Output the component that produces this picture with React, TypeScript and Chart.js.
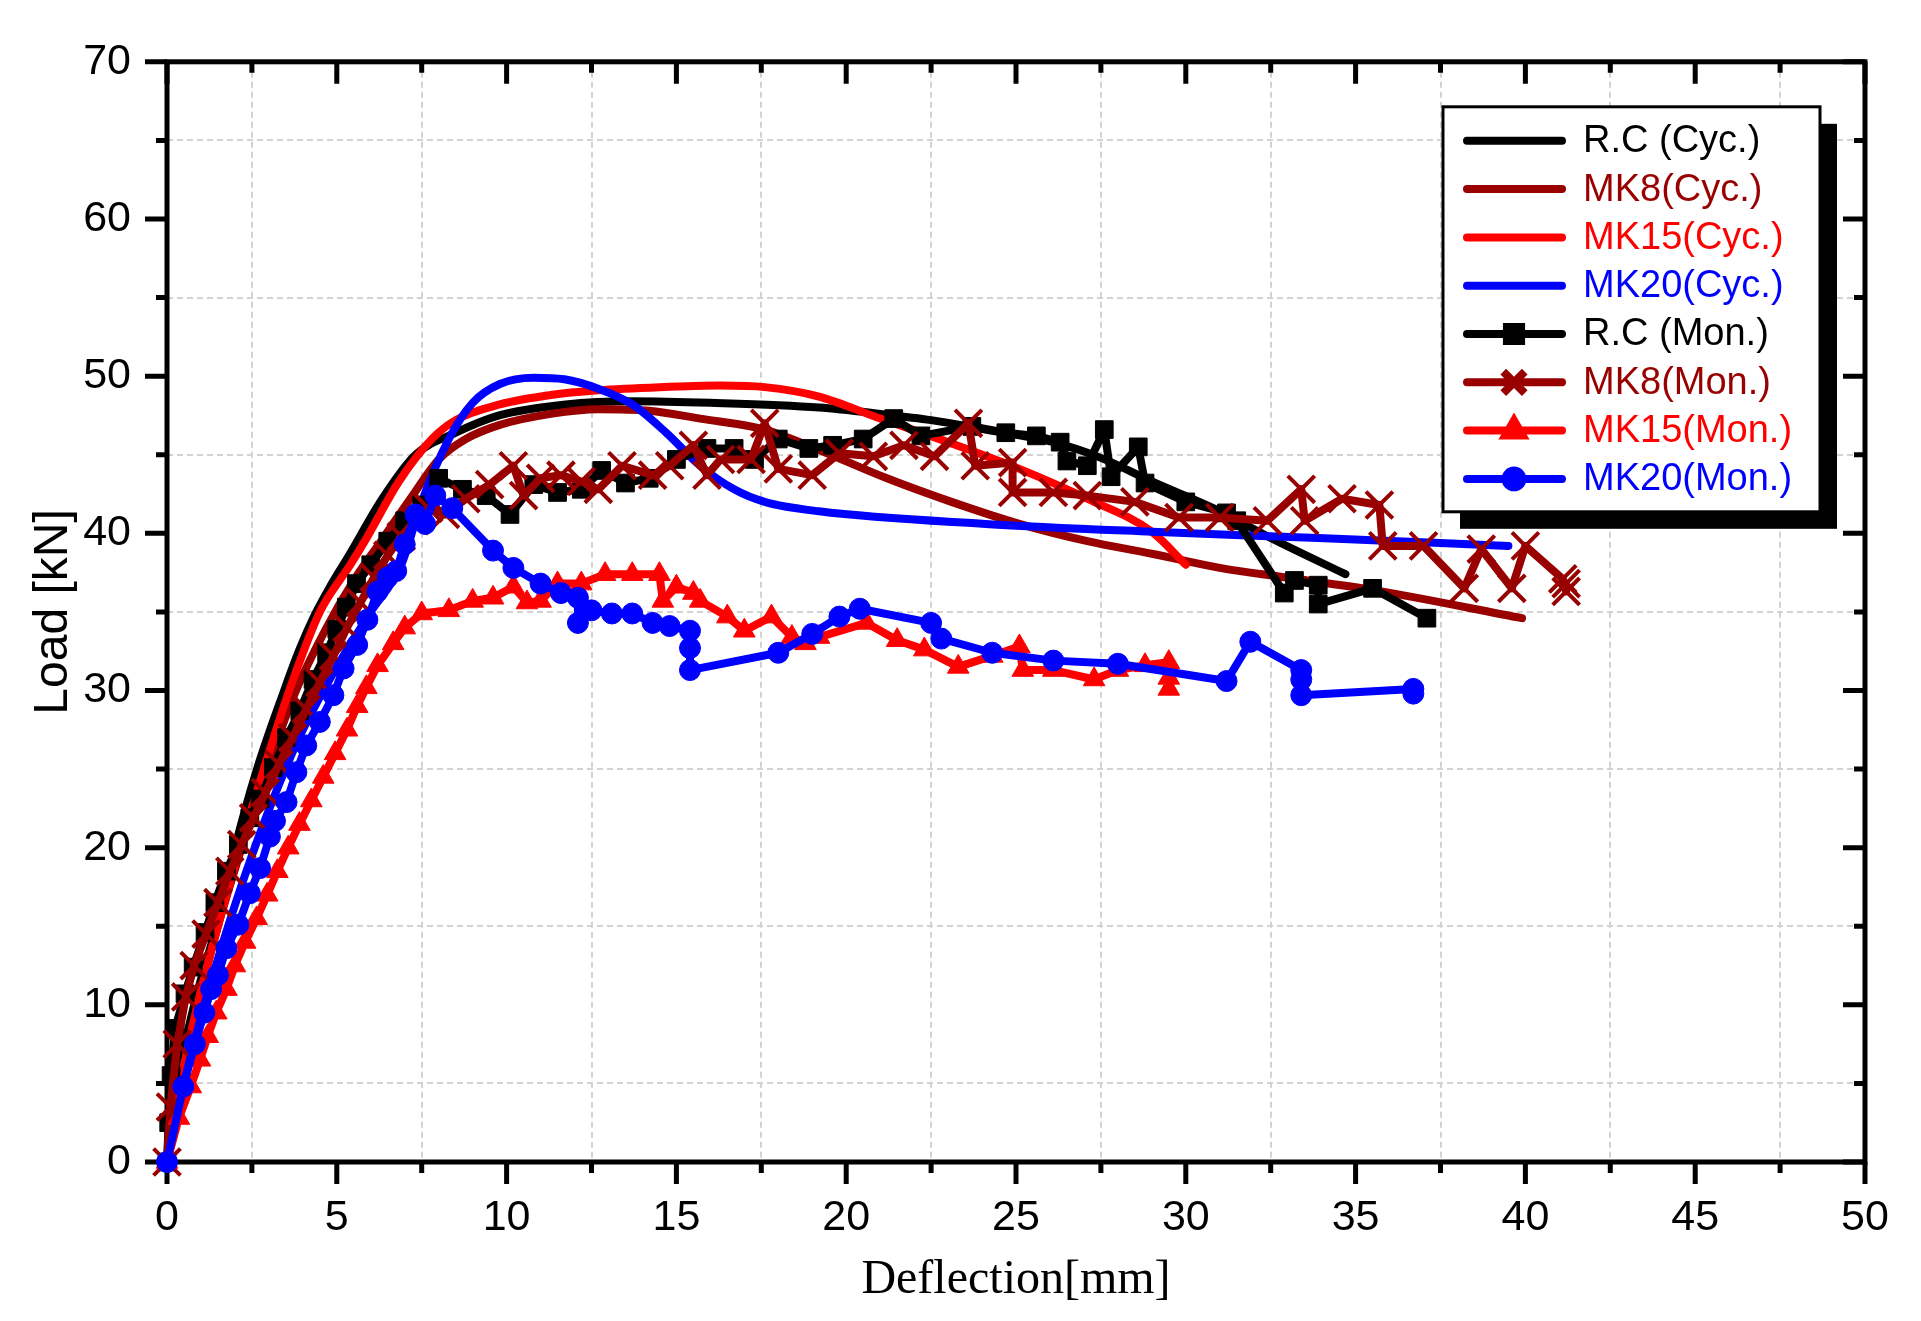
import { useEffect, useRef } from "react";
import { Chart, registerables } from "chart.js";
import { drawPoint } from "chart.js/helpers";

Chart.register(...registerables);

// ---- data (deflection in mm, load in kN) ----
const rcCycX = [0, 0.3, 0.8, 1.45, 2.0, 2.65, 3.45, 3.9, 4.35, 4.8, 5.36, 6.34, 7.32, 8.5, 9.78, 11.74, 13.7, 16, 19.2, 21, 22.5, 24.1, 26.1, 27.5, 29, 30.5, 31, 32.5, 34.7];
const rcCycY = [0, 5, 10, 15, 20, 25, 30, 32.6, 34.8, 36.6, 38.6, 42.2, 45.0, 46.4, 47.5, 48.2, 48.4, 48.3, 48.0, 47.6, 47.2, 46.6, 45.8, 44.8, 43.3, 41.9, 41.4, 39.7, 37.4];

const mk8CycX = [0, 0.4, 0.9, 1.5, 2.2, 2.95, 3.8, 4.7, 5.5, 6.3, 7.2, 8.0, 8.8, 9.8, 11.3, 12.7, 14.2, 15.7, 17.6, 19.2, 21.2, 23.1, 25.1, 27.1, 29, 31, 32.9, 35.5, 39.9];
const mk8CycY = [0, 5, 10, 15, 20, 25, 30, 34, 37, 39.5, 42.3, 44.7, 46.0, 46.9, 47.6, 47.9, 47.8, 47.3, 46.6, 45.3, 43.5, 42.0, 40.6, 39.5, 38.7, 37.8, 37.2, 36.4, 34.6];

const mk15CycX = [0, 0.4, 0.9, 1.5, 2.15, 2.85, 3.6, 4.5, 5.4, 5.85, 6.83, 7.8, 8.5, 9.8, 11.3, 12.7, 14.5, 16.3, 17.6, 19.2, 21, 23, 25.1, 27.1, 29, 30];
const mk15CycY = [0, 5, 10, 15, 20, 25, 30, 35, 38, 39.6, 43.3, 46.0, 47.2, 48.2, 48.8, 49.1, 49.3, 49.4, 49.3, 48.7, 47.3, 45.8, 44.1, 42.2, 40.1, 38.0];

const mk20CycX = [0, 0.5, 1.1, 1.8, 2.5, 3.2, 4.0, 5.0, 6.0, 6.9, 7.5, 8.3, 9.0, 9.8, 10.8, 11.7, 12.7, 13.7, 14.7, 15.7, 16.7, 17.6, 19.2, 24.1, 29, 33.9, 39.5];
const mk20CycY = [0, 5, 10, 15, 19.5, 23.5, 27.5, 31.5, 35, 38, 42, 46, 48.3, 49.5, 49.9, 49.8, 49.2, 48.2, 46.4, 44.3, 42.8, 42, 41.4, 40.6, 40.1, 39.7, 39.2];

const rcMonX = [0, 0.05, 0.12, 0.24, 0.53, 0.77, 1.12, 1.41, 1.75, 2.1, 2.44, 2.74, 3.13, 3.52, 3.91, 4.3, 4.7, 5.0, 5.28, 5.58, 6.0, 6.5, 7.0, 7.5, 8.0, 8.7, 9.4, 10.1, 10.8, 11.5, 12.2, 12.8, 13.5, 14.2, 15.0, 15.9, 16.7, 17.3, 18.0, 18.9, 19.6, 20.5, 21.4, 22.2, 23.7, 24.7, 25.6, 26.3, 26.5, 27.1, 27.6, 27.8, 28.6, 28.8, 30, 31.2, 31.5, 32.9, 33.2, 33.9, 33.9, 35.5, 37.1];
const rcMonY = [0, 2.5, 5.5, 8.5, 10.7, 12.4, 14.6, 16.5, 18.5, 20.2, 21.9, 23.1, 25.1, 27.0, 28.7, 30.7, 32.4, 33.9, 35.3, 36.8, 38, 39.5, 40.8, 41.8, 43.5, 42.8, 42.4, 41.2, 43.1, 42.6, 42.8, 44.0, 43.2, 43.5, 44.7, 45.4, 45.4, 44.7, 46.0, 45.4, 45.6, 46.0, 47.3, 46.2, 46.8, 46.4, 46.2, 45.8, 44.6, 44.3, 46.6, 43.6, 45.5, 43.2, 42, 41.3, 40.8, 36.2, 37, 36.7, 35.5, 36.5, 34.6];

const mk8MonX = [0, 0.1, 0.3, 0.55, 0.8, 1.15, 1.5, 1.85, 2.2, 2.55, 2.9, 3.3, 3.7, 4.1, 4.5, 4.9, 5.3, 5.7, 6.1, 6.5, 6.9, 7.3, 7.7, 8.2, 8.8, 9.5, 10.2, 10.5, 11, 11.6, 12.2, 12.7, 13.4, 14.3, 14.8, 15.5, 15.9, 16.3, 17.2, 17.6, 18.0, 19.0, 19.8, 20.8, 21.7, 22.6, 23.6, 23.8, 24.9, 24.9, 26.1, 27.1, 28.5, 29.8, 31.0, 32.4, 33.4, 33.5, 34.6, 35.7, 35.8, 37.0, 38.2, 38.7, 39.6, 40.0, 41.1, 41.2, 41.2];
const mk8MonY = [0, 3.5, 7.5, 10.5, 12.5, 14.5, 16.5, 18.5, 20.2, 21.9, 23.5, 25.3, 27, 28.8, 30.5, 32.2, 34, 35.6, 37.2, 38.6, 39.8, 40.8, 41.6, 41.2, 42.2, 43.1, 44.3, 42.4, 43.5, 43.7, 43.3, 42.8, 44.3, 43.7, 44.3, 45.6, 43.7, 44.7, 44.7, 47.0, 44.1, 43.7, 45.1, 44.9, 45.6, 44.9, 47.0, 44.3, 44.5, 42.6, 42.6, 42.4, 42.0, 41.0, 41.0, 40.8, 42.8, 40.8, 42.2, 41.8, 39.2, 39.2, 36.5, 39.0, 36.5, 39.2, 37.1, 36.3, 36.8];

const mk15MonX = [0, 0.35, 0.7, 0.97, 1.2, 1.45, 1.75, 2.0, 2.3, 2.64, 2.95, 3.25, 3.57, 3.9, 4.25, 4.6, 4.95, 5.3, 5.6, 5.87, 6.2, 6.66, 7.0, 7.5, 8.3, 9.0, 9.6, 10.2, 10.6, 11.0, 11.5, 12.2, 12.9, 13.7, 14.5, 14.6, 15.0, 15.5, 15.7, 16.5, 17.0, 17.8, 18.4, 18.8, 19.2, 20.6, 21.5, 22.3, 23.3, 24.3, 25.1, 25.2, 26.1, 27.3, 28.0, 28.8, 29.5, 29.5, 29.5];
const mk15MonY = [0, 2.8, 4.8, 6.5, 8, 9.5, 11, 12.5, 14, 15.5, 17, 18.5, 20, 21.5, 23, 24.5, 26, 27.5, 29, 30.2, 31.6, 33, 34, 34.9, 35.1, 35.7, 35.9, 36.6, 35.6, 35.7, 36.8, 36.8, 37.4, 37.4, 37.4, 35.7, 36.6, 36.2, 35.7, 34.7, 33.8, 34.7, 33.4, 33.0, 33.4, 34.3, 33.2, 32.6, 31.5, 32.2, 32.8, 31.3, 31.3, 30.7, 31.3, 31.6, 31.8, 30.1, 30.8];

const mk20MonX = [0, 0.48, 0.82, 1.1, 1.3, 1.5, 1.75, 2.1, 2.44, 2.74, 3.03, 3.18, 3.52, 3.81, 4.1, 4.5, 4.9, 5.2, 5.6, 5.9, 6.2, 6.5, 6.75, 7.0, 7.32, 7.6, 7.9, 8.4, 9.6, 10.2, 11.0, 11.6, 12.1, 12.1, 12.5, 13.1, 13.7, 14.3, 14.8, 15.4, 15.4, 15.4, 18.0, 19.0, 19.8, 20.4, 22.5, 22.8, 24.3, 26.1, 28.0, 31.2, 31.9, 33.4, 33.4, 33.4, 36.7, 36.7];
const mk20MonY = [0, 4.8, 7.5, 9.5, 11, 11.9, 13.6, 15.1, 17.1, 18.7, 20.7, 21.7, 22.9, 24.8, 26.5, 28.0, 29.7, 31.4, 32.9, 34.5, 36.3, 37.2, 37.6, 39.3, 41.2, 40.6, 42.4, 41.6, 38.9, 37.8, 36.8, 36.2, 35.9, 34.3, 35.1, 34.9, 34.9, 34.3, 34.1, 33.8, 32.7, 31.3, 32.4, 33.6, 34.7, 35.2, 34.3, 33.3, 32.4, 31.9, 31.7, 30.6, 33.1, 31.3, 30.7, 29.7, 30.1, 29.8];

const xTicksMax = 50;
const yTicksMax = 70;

const BLACK = "#000000";
const WINE = "#990000";
const RED = "#ff0000";
const BLUE = "#0000ff";

const sans = "'Liberation Sans', Arial, sans-serif";
const serif = "'Liberation Serif', 'Times New Roman', serif";

const pts = (xs: number[], ys: number[]) => xs.map((x, i) => ({ x, y: ys[i] }));

// box frame on all four sides, Origin-style major/minor ticks
const frameTicks = {
  id: "frameTicks",
  beforeDatasetsDraw(chart: any) {
    const { ctx, chartArea: a, scales } = chart;
    ctx.save();
    ctx.strokeStyle = "#000";
    ctx.lineWidth = 5;
    ctx.lineJoin = "miter";
    ctx.strokeRect(a.left, a.top, a.right - a.left, a.bottom - a.top);
    ctx.beginPath();
    scales.x.ticks.forEach((t: any) => {
      const px = scales.x.getPixelForValue(t.value);
      const len = t.value % 5 === 0 ? 22 : 11;
      ctx.moveTo(px, a.bottom);
      ctx.lineTo(px, a.bottom + len);
      ctx.moveTo(px, a.top);
      ctx.lineTo(px, a.top + len);
    });
    scales.y.ticks.forEach((t: any) => {
      const py = scales.y.getPixelForValue(t.value);
      const len = t.value % 10 === 0 ? 22 : 11;
      ctx.moveTo(a.left, py);
      ctx.lineTo(a.left - len, py);
      ctx.moveTo(a.right, py);
      ctx.lineTo(a.right - len, py);
    });
    ctx.stroke();
    ctx.restore();
  },
};

// framed legend with a solid drop shadow, built from the datasets
const shadowLegend = {
  id: "shadowLegend",
  afterDraw(chart: any) {
    const { ctx, chartArea: a } = chart;
    const sets = chart.data.datasets;
    const w = 377;
    const h = 405;
    const x0 = a.right - 45 - w;
    const y0 = a.top + 45;
    ctx.save();
    ctx.fillStyle = "#000";
    ctx.fillRect(x0 + 17, y0 + 17, w, h);
    ctx.fillStyle = "#fff";
    ctx.fillRect(x0, y0, w, h);
    ctx.lineWidth = 3;
    ctx.strokeStyle = "#000";
    ctx.strokeRect(x0, y0, w, h);
    ctx.font = `38px ${sans}`;
    ctx.textBaseline = "middle";
    ctx.textAlign = "left";
    sets.forEach((ds: any, i: number) => {
      const y = y0 + 34 + i * 48.3;
      ctx.strokeStyle = ds.borderColor;
      ctx.lineWidth = 8;
      ctx.lineCap = "round";
      ctx.beginPath();
      ctx.moveTo(x0 + 24, y);
      ctx.lineTo(x0 + 119, y);
      ctx.stroke();
      if (ds.pointRadius > 0) {
        ctx.fillStyle = ds.pointBackgroundColor;
        ctx.strokeStyle = ds.pointBorderColor;
        ctx.lineCap = "butt";
        drawPoint(ctx, { pointStyle: ds.pointStyle, rotation: 0, radius: ds.pointRadius * 0.8, borderWidth: ds.pointBorderWidth }, x0 + 71, y);
      }
      ctx.fillStyle = ds.borderColor;
      ctx.fillText(ds.label, x0 + 140, y + 1);
    });
    ctx.restore();
  },
};

const cyc = (label: string, color: string, xs: number[], ys: number[], order: number) => ({
  label,
  data: pts(xs, ys),
  borderColor: color,
  backgroundColor: color,
  borderWidth: 8,
  pointRadius: 0,
  tension: 0.4,
  cubicInterpolationMode: "monotone",
  borderCapStyle: "round",
  borderJoinStyle: "round",
  clip: false,
  order,
});

const mon = (label: string, color: string, xs: number[], ys: number[], style: string, radius: number, bw: number, order: number) => ({
  label,
  data: pts(xs, ys),
  borderColor: color,
  backgroundColor: color,
  borderWidth: 8,
  pointStyle: style,
  pointRadius: radius,
  pointBackgroundColor: color,
  pointBorderColor: color,
  pointBorderWidth: bw,
  tension: 0,
  borderCapStyle: "round",
  borderJoinStyle: "round",
  clip: false,
  order,
});

export default function App() {
  const chartRef = useRef<HTMLCanvasElement>(null);

  useEffect(() => {
    if (!chartRef.current) return;

    const chart = new Chart(chartRef.current, {
      type: "line",
      data: {
        datasets: [
          cyc("R.C (Cyc.)", BLACK, rcCycX, rcCycY, 8),
          cyc("MK8(Cyc.)", WINE, mk8CycX, mk8CycY, 7),
          cyc("MK15(Cyc.)", RED, mk15CycX, mk15CycY, 6),
          cyc("MK20(Cyc.)", BLUE, mk20CycX, mk20CycY, 5),
          mon("R.C (Mon.)", BLACK, rcMonX, rcMonY, "rect", 12.5, 1, 4),
          mon("MK8(Mon.)", WINE, mk8MonX, mk8MonY, "crossRot", 19, 4, 3),
          mon("MK15(Mon.)", RED, mk15MonX, mk15MonY, "triangle", 12.5, 1, 2),
          mon("MK20(Mon.)", BLUE, mk20MonX, mk20MonY, "circle", 10.5, 1, 1),
        ] as any,
      },
      options: {
        animation: false,
        responsive: true,
        maintainAspectRatio: false,
        events: [],
        layout: { padding: { top: 48, right: 56, bottom: 0, left: 0 } },
        plugins: {
          legend: { display: false },
          tooltip: { enabled: false },
        },
        scales: {
          x: {
            type: "linear",
            min: 0,
            max: xTicksMax,
            afterFit: (s: any) => {
              s.height = 159;
            },
            border: { display: false, dash: [6, 4] },
            grid: {
              drawTicks: false,
              lineWidth: 2,
              color: (c: any) => (c.tick && c.tick.value % 5 !== 0 ? "#d2d2d2" : "rgba(0,0,0,0)"),
            },
            ticks: {
              stepSize: 2.5,
              padding: 30,
              maxRotation: 0,
              autoSkip: false,
              color: "#000",
              font: { family: sans, size: 43 },
              callback: (v: any) => (Number(v) % 5 === 0 ? String(v) : ""),
            },
            title: {
              display: true,
              text: "Deflection[mm]",
              color: "#000",
              font: { family: serif, size: 48 },
              padding: { top: 0, bottom: 12 },
            },
          },
          y: {
            type: "linear",
            min: 0,
            max: yTicksMax,
            afterFit: (s: any) => {
              s.width = 167;
            },
            border: { display: false, dash: [6, 4] },
            grid: {
              drawTicks: false,
              lineWidth: 2,
              color: (c: any) => (c.tick && c.tick.value % 10 !== 0 ? "#d2d2d2" : "rgba(0,0,0,0)"),
            },
            ticks: {
              stepSize: 5,
              padding: 36,
              autoSkip: false,
              color: "#000",
              font: { family: sans, size: 43 },
              callback: (v: any) => (Number(v) % 10 === 0 ? String(v) : ""),
            },
            title: {
              display: true,
              text: "Load [kN]",
              color: "#000",
              font: { family: sans, size: 48 },
              padding: { top: 25, bottom: 0 },
            },
          },
        },
      },
      plugins: [frameTicks, shadowLegend],
    });

    return () => chart.destroy();
  }, []);

  return (
    <div style={{ position: "absolute", left: 0, top: 0, width: 1921, height: 1321, background: "#fff" }}>
      <canvas ref={chartRef} role="img" aria-label="Load versus deflection curves for cyclic and monotonic tests of R.C, MK8, MK15 and MK20 specimens." />
    </div>
  );
}
